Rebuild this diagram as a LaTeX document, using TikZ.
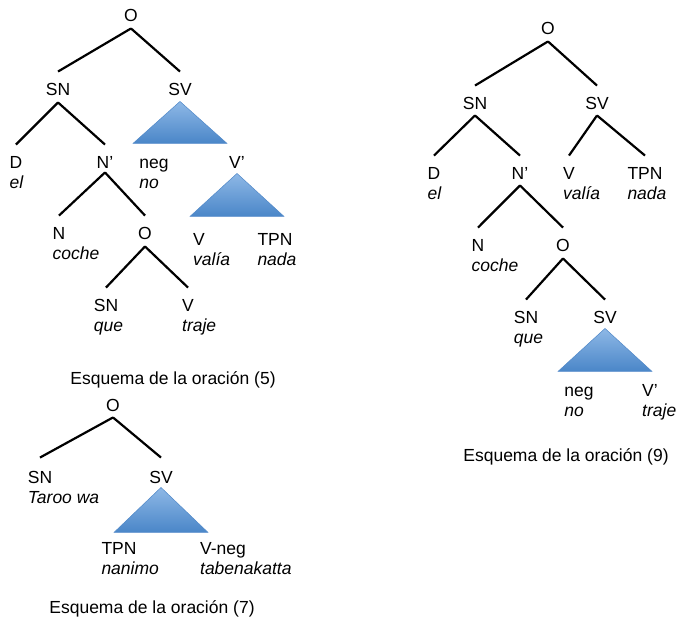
\documentclass[tikz,border=0pt]{standalone}
\usepackage{fontspec}
\setmainfont{Liberation Sans}
\usetikzlibrary{positioning}

\definecolor{trokutgore}{RGB}{142,184,230}
\definecolor{trokutdolje}{RGB}{74,134,200}
\definecolor{trokutrub}{RGB}{80,136,200}

\begin{document}
\begin{tikzpicture}[x=1pt, y=-1pt,
    kat/.style={inner sep=0pt, text height=12.5pt, text depth=0pt, font=\fontsize{17.5}{20}\selectfont},
    rijec/.style={inner sep=0pt, anchor=base west, font=\fontsize{17.5}{20}\selectfont\itshape},
    grana/.style={line width=2.2pt},
    trokut/.style={top color=trokutgore, bottom color=trokutdolje, draw=trokutrub, line width=0.5pt}]
                \useasboundingbox (0,0) rectangle (676,618);

                % stablo (5)
                \node[kat] (O1) at (131,15) {O};
                \node[kat] (SN1) at (58,89) {SN};
                \node[kat] (SV1) at (180,89) {SV};
                \node[kat] (D1) at (16,162) {D};
                \node[kat] (Nc1) at (105,162) {N'};
                \node[kat] (neg1) at (154,162) {neg};
                \node[kat] (Vc1) at (237,162) {V'};
                \node[kat] (N1) at (59,233) {N};
                \node[kat] (Ob1) at (145,233) {O};
                \node[kat] (V1) at (199,239) {V};
                \node[kat] (TPN1) at (275,239) {TPN};
                \node[kat] (SNb1) at (106,305) {SN};
                \node[kat] (Vb1) at (188,305) {V};

                \node[rijec] (el1) at ([yshift=-20pt]D1.base west) {el};
                \node[rijec] (no1) at ([yshift=-20pt]neg1.base west) {no};
                \node[rijec] (coche1) at ([yshift=-20pt]N1.base west) {coche};
                \node[rijec] (valia1) at ([yshift=-20pt]V1.base west) {valía};
                \node[rijec] (nada1) at ([yshift=-20pt]TPN1.base west) {nada};
                \node[rijec] (que1) at ([yshift=-20pt]SNb1.base west) {que};
                \node[rijec] (traje1) at ([yshift=-20pt]Vb1.base west) {traje};

                \draw[grana] ([yshift=-7pt]O1.south) -- ([yshift=11pt]SN1.north);
                \draw[grana] ([yshift=-7pt]O1.south) -- ([yshift=11pt]SV1.north);
                \draw[grana] ([yshift=-7pt]SN1.south) -- ([yshift=11pt]D1.north);
                \draw[grana] ([yshift=-7pt]SN1.south) -- ([yshift=11pt]Nc1.north);
                \draw[grana] ([yshift=-4pt]Nc1.south) -- ([yshift=11pt]N1.north);
                \draw[grana] ([yshift=-4pt]Nc1.south) -- ([yshift=11pt]Ob1.north);
                \draw[grana] ([yshift=-7pt]Ob1.south) -- ([yshift=11pt]SNb1.north);
                \draw[grana] ([yshift=-7pt]Ob1.south) -- ([yshift=11pt]Vb1.north);

                \shadedraw[trokut] ([yshift=-6pt]SV1.south) -- ++(-47,42) -- ++(94,0) -- cycle;
                \shadedraw[trokut] ([yshift=-5pt]Vc1.south) -- ++(-47,43) -- ++(94,0) -- cycle;

                \node[kat] (nat5) at (173,378) {Esquema de la oración (5)};

                % stablo (9)
                \node[kat] (O2) at (548,28) {O};
                \node[kat] (SN2) at (475,103) {SN};
                \node[kat] (SV2) at (597,103) {SV};
                \node[kat] (D2) at (434,173) {D};
                \node[kat] (Nc2) at (520,173) {N'};
                \node[kat] (V2) at (569,173) {V};
                \node[kat] (TPN2) at (645,173) {TPN};
                \node[kat] (N2) at (478,245) {N};
                \node[kat] (Ob2) at (563,245) {O};
                \node[kat] (SNb2) at (526,317) {SN};
                \node[kat] (SVb2) at (605,317) {SV};
                \node[kat] (neg2) at (579,390) {neg};
                \node[kat] (Vc2) at (650,390) {V'};

                \node[rijec] (el2) at ([yshift=-20pt]D2.base west) {el};
                \node[rijec] (valia2) at ([yshift=-20pt]V2.base west) {valía};
                \node[rijec] (nada2) at ([yshift=-20pt]TPN2.base west) {nada};
                \node[rijec] (coche2) at ([yshift=-20pt]N2.base west) {coche};
                \node[rijec] (que2) at ([yshift=-20pt]SNb2.base west) {que};
                \node[rijec] (no2) at ([yshift=-20pt]neg2.base west) {no};
                \node[rijec] (traje2) at ([yshift=-20pt]Vc2.base west) {traje};

                \draw[grana] ([yshift=-7pt]O2.south) -- ([yshift=11pt]SN2.north);
                \draw[grana] ([yshift=-7pt]O2.south) -- ([yshift=11pt]SV2.north);
                \draw[grana] ([yshift=-6pt]SN2.south) -- ([yshift=11pt]D2.north);
                \draw[grana] ([yshift=-6pt]SN2.south) -- ([yshift=11pt]Nc2.north);
                \draw[grana] ([yshift=-6pt]SV2.south) -- ([yshift=11pt]V2.north);
                \draw[grana] ([yshift=-6pt]SV2.south) -- ([yshift=11pt]TPN2.north);
                \draw[grana] ([yshift=-6pt]Nc2.south) -- ([yshift=11pt]N2.north);
                \draw[grana] ([yshift=-6pt]Nc2.south) -- ([yshift=11pt]Ob2.north);
                \draw[grana] ([yshift=-7pt]Ob2.south) -- ([yshift=11pt]SNb2.north);
                \draw[grana] ([yshift=-7pt]Ob2.south) -- ([yshift=11pt]SVb2.north);

                \shadedraw[trokut] ([yshift=-5pt]SVb2.south) -- ++(-47,43) -- ++(94,0) -- cycle;

                \node[kat] (nat9) at (566,455) {Esquema de la oración (9)};

                % stablo (7)
                \node[kat] (O3) at (113,405) {O};
                \node[kat] (SN3) at (40,477) {SN};
                \node[kat] (SV3) at (161,477) {SV};
                \node[kat] (TPN3) at (119,548) {TPN};
                \node[kat] (Vneg3) at (223,548) {V-neg};

                \node[rijec] (taroo3) at ([yshift=-20pt]SN3.base west) {Taroo wa};
                \node[rijec] (nanimo3) at ([yshift=-20pt]TPN3.base west) {nanimo};
                \node[rijec] (tabena3) at ([yshift=-20pt]Vneg3.base west) {tabenakatta};

                \draw[grana] ([yshift=-6pt]O3.south) -- ([yshift=13pt]SN3.north);
                \draw[grana] ([yshift=-6pt]O3.south) -- ([yshift=13pt]SV3.north);

                \shadedraw[trokut] ([yshift=-4pt]SV3.south) -- ++(-47,45) -- ++(94,0) -- cycle;

                \node[kat] (nat7) at (152,607) {Esquema de la oración (7)};
            \end{tikzpicture}
\end{document}
